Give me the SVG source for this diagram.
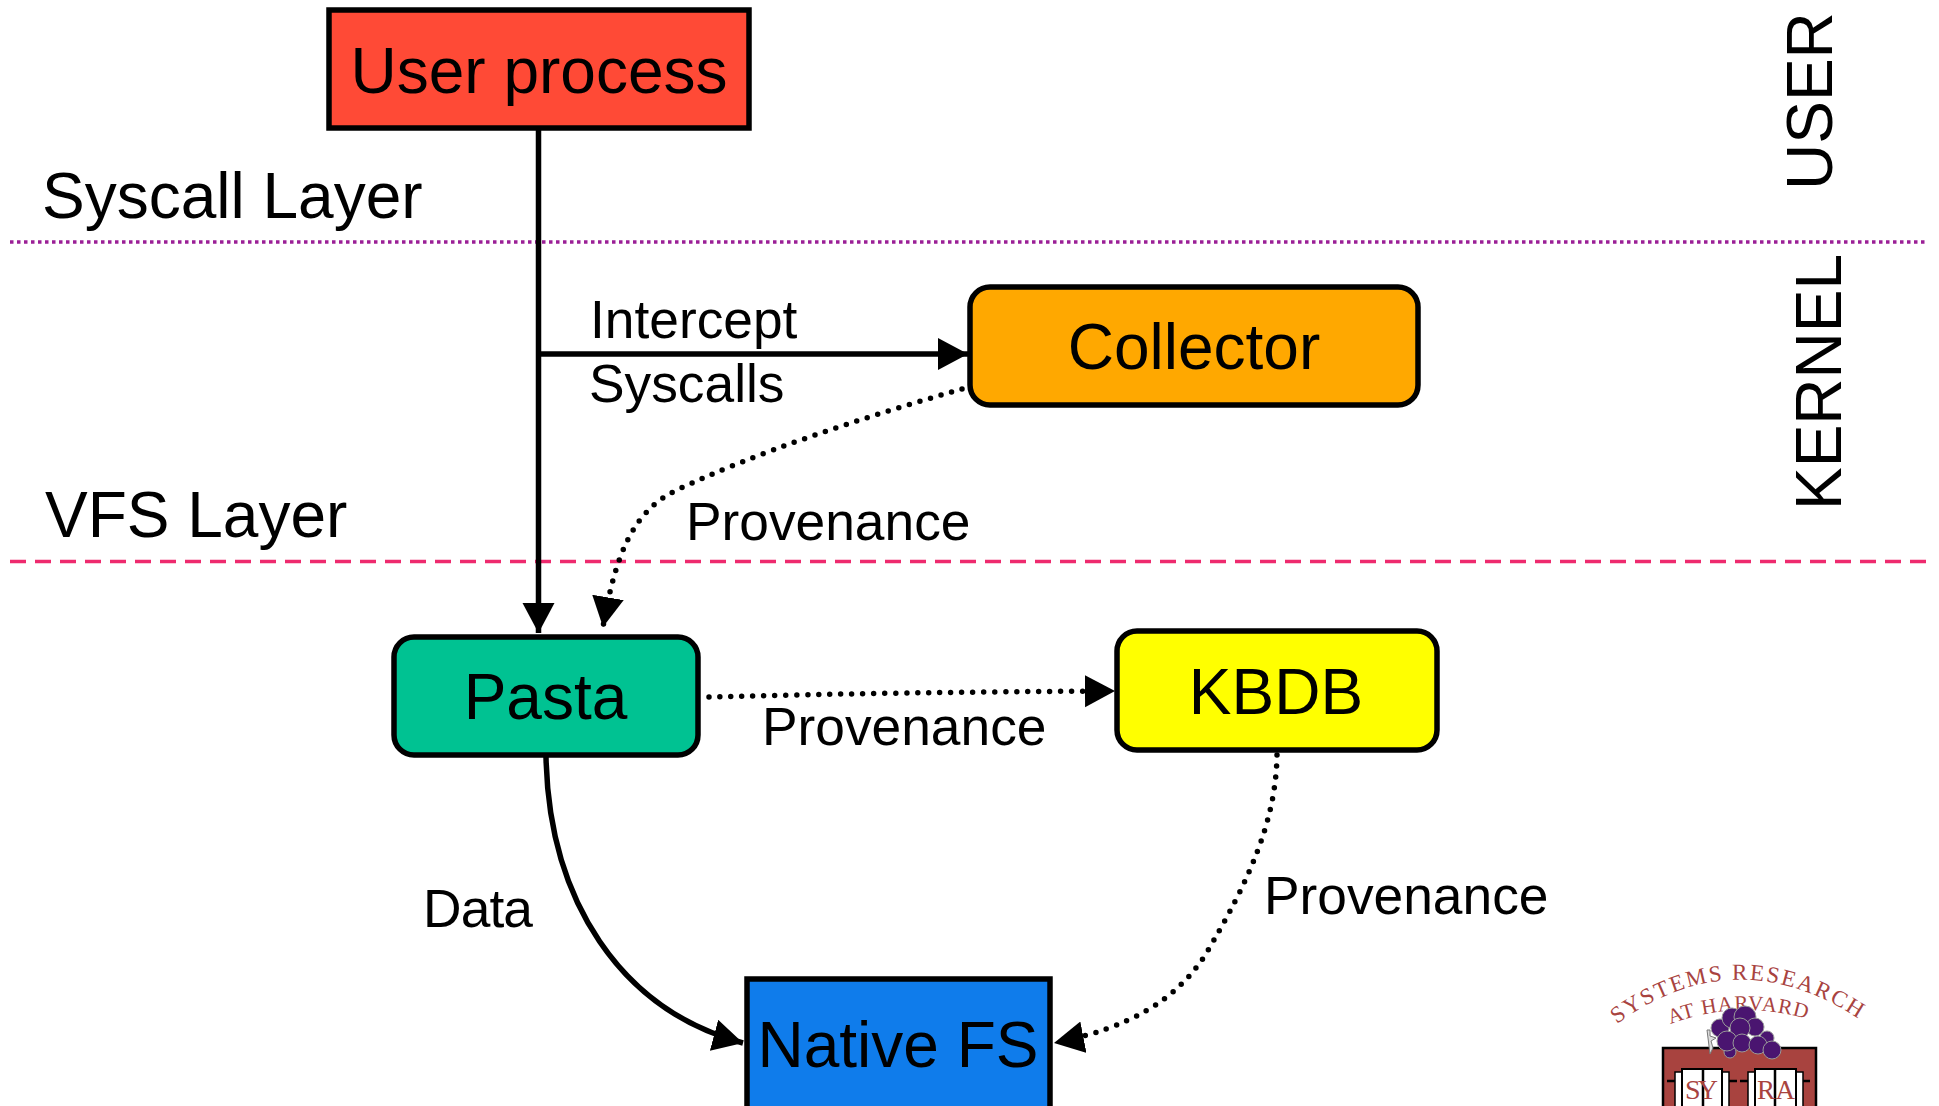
<svg xmlns="http://www.w3.org/2000/svg" width="1939" height="1106" viewBox="0 0 1939 1106">
<style>
text{font-family:"Liberation Sans",Arial,sans-serif;fill:#000}
.n{font-size:64px;text-anchor:middle}
.l{font-size:53.300px}
.h{font-size:64px}
.b{stroke:#000;stroke-width:5.500}
.c{fill:none;stroke:#000;stroke-width:5.500}
.d{fill:none;stroke:#000;stroke-width:5.500;stroke-dasharray:0 11;stroke-linecap:round}
.logo{font-family:"Liberation Serif",serif;fill:#a8433f}
.g{fill:#4a1570;stroke:#999;stroke-width:1}
.p{fill:#fff;stroke:#000;stroke-width:2}
.s{fill:none;stroke:#000;stroke-width:2.500}
</style>
<defs>
<marker id="a" markerUnits="userSpaceOnUse" markerWidth="32" markerHeight="34" refX="30" refY="16" orient="auto"><path d="M0 0L30 16L0 32Z" fill="#000"/></marker>
<path id="arc1" d="M1605 1033Q1736 929 1872 1028"/>
<path id="arc2" d="M1668 1025Q1738 998 1810 1020"/>
</defs>
<rect width="1939" height="1106" fill="#fff"/>
<g id="layers">
<path d="M10 242H1928" fill="none" stroke="#9b1f96" stroke-width="3.500" stroke-dasharray="3.500 3.500"/>
<path d="M10 561.500H1928" fill="none" stroke="#ee2a6e" stroke-width="3.500" stroke-dasharray="16 9"/>
<text class="h" x="42" y="218">Syscall Layer</text>
<text class="h" x="45" y="537">VFS Layer</text>
<text class="h" transform="translate(1832 190) rotate(-90)">USER</text>
<text class="h" transform="translate(1841 510) rotate(-90)">KERNEL</text>
</g>
<g id="connectors">
<path class="c" d="M538.500 128V633" marker-end="url(#a)"/>
<path class="c" d="M538.500 354H968" marker-end="url(#a)"/>
<path class="d" d="M962 389C860 418 750 455 677 490C635 510 616 550 603 627" marker-end="url(#a)"/>
<path class="d" d="M709 697Q900 692 1115 691" marker-end="url(#a)"/>
<path class="c" d="M546 757C549 900 620 1010 743 1043" marker-end="url(#a)"/>
<path class="d" d="M1277 755C1276 820 1250 880 1204 957C1175 1000 1130 1028 1054 1043" marker-end="url(#a)"/>
</g>
<g id="user-process"><rect class="b" x="329" y="10" width="420" height="118" fill="#ff4a36"/><text class="n" x="539" y="93">User process</text></g>
<g id="collector"><rect class="b" x="970" y="287" width="448" height="118" rx="20" fill="#ffa800"/><text class="n" x="1194" y="369">Collector</text></g>
<g id="pasta"><rect class="b" x="394" y="637" width="304" height="118" rx="20" fill="#00c292"/><text class="n" x="545.500" y="719">Pasta</text></g>
<g id="kbdb"><rect class="b" x="1117" y="631" width="320" height="119" rx="20" fill="#ffff00"/><text class="n" x="1276" y="714">KBDB</text></g>
<g id="native-fs"><rect class="b" x="747" y="979" width="303" height="130" fill="#0f7ceb"/><text class="n" x="898" y="1067">Native FS</text></g>
<g id="labels">
<text class="l" x="590" y="338">Intercept</text>
<text class="l" x="589" y="402">Syscalls</text>
<text class="l" x="686" y="540">Provenance</text>
<text class="l" x="762" y="745">Provenance</text>
<text class="l" x="1264" y="914">Provenance</text>
<text class="l" x="423" y="927" textLength="110">Data</text>
</g>
<g id="logo">
<text class="logo" font-size="23" letter-spacing="2"><textPath href="#arc1" startOffset="50%" text-anchor="middle">SYSTEMS RESEARCH</textPath></text>
<text class="logo" font-size="21" letter-spacing="1"><textPath href="#arc2" startOffset="50%" text-anchor="middle">AT HARVARD</textPath></text>
<rect x="1663" y="1048" width="153" height="62" fill="#a8433f" stroke="#000" stroke-width="2.500"/>
<path d="M1707 1030L1710 1054L1713 1048L1711 1041L1716 1038L1710 1036L1710 1030Z" fill="#ddd" stroke="#777"/>
<circle class="g" cx="1720" cy="1028" r="9"/><circle class="g" cx="1732" cy="1018" r="10"/><circle class="g" cx="1745" cy="1017" r="11"/><circle class="g" cx="1755" cy="1027" r="9"/><circle class="g" cx="1740" cy="1028" r="10"/><circle class="g" cx="1767" cy="1038" r="7"/><circle class="g" cx="1730" cy="1052" r="6"/><circle class="g" cx="1727" cy="1041" r="10"/><circle class="g" cx="1742" cy="1043" r="9"/><circle class="g" cx="1758" cy="1045" r="9"/><circle class="g" cx="1772" cy="1050" r="9"/>
<path class="s" d="M1667 1081H1737M1740 1081H1810"/>
<path d="M1675 1072H1682V1110H1675ZM1722 1072H1729V1110H1722ZM1748 1072H1755V1110H1748ZM1796 1072H1803V1110H1796Z" fill="#fff" stroke="#000" stroke-width="1.500"/>
<rect class="p" x="1682" y="1069" width="40" height="41"/><rect class="p" x="1755" y="1069" width="41" height="41"/>
<path class="s" d="M1703 1069V1110M1775 1069V1110" stroke-width="1"/>
<text class="logo" font-size="28" x="1685" y="1099" textLength="33">SY</text>
<text class="logo" font-size="27" x="1757" y="1099" textLength="38">RA</text>
</g>
</svg>
